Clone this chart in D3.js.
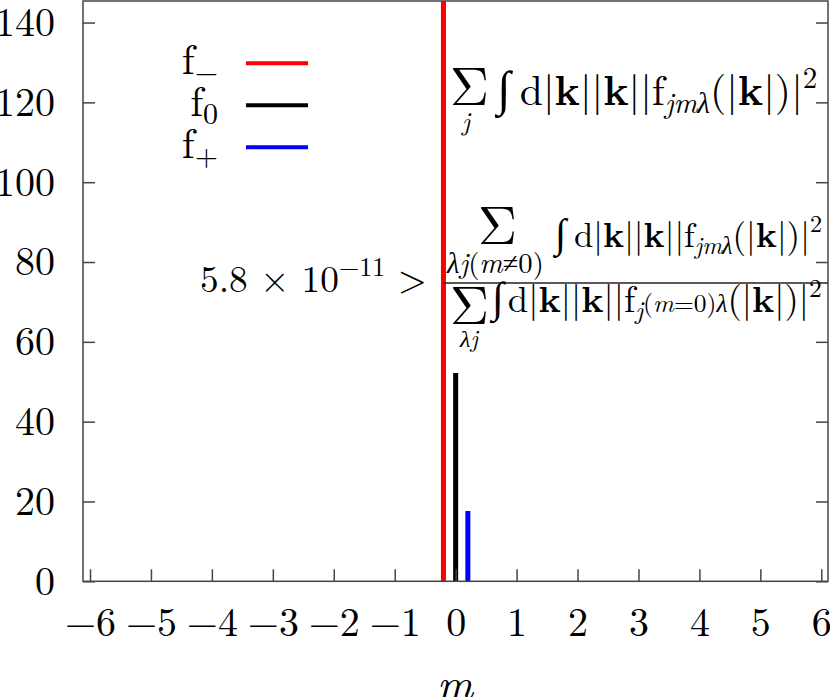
<!DOCTYPE html>
<html><head><meta charset="utf-8">
<script src="https://cdn.jsdelivr.net/npm/d3@7"></script>
<style>html,body{margin:0;padding:0;background:#fff;}</style>
</head><body>
<svg id="chart" width="830" height="697"></svg>
<script>
// ---- data ----
const seriesNames = ["f−", "f0", "f+"];
const seriesSubs = ["−", "0", "+"];
const seriesColors = ["#ff0000", "#000000", "#0000ff"];
const mValues = [-0.2, 0, 0.2];
const barValues = [200, 52.2, 17.6];   // red exceeds the top of the axis
const xTicks = [-6, -5, -4, -3, -2, -1, 0, 1, 2, 3, 4, 5, 6];
const yTicks = [0, 20, 40, 60, 80, 100, 120, 140];
const xDomain = [-6.115, 6.11];
const yDomain = [0, 145.4];

const FONT = '"Latin Modern Roman"';
const svg = d3.select("#chart");
const L = 83, R = 828, T = 1, B = 581.3;
const x = d3.scaleLinear().domain(xDomain).range([L, R]);
const y = d3.scaleLinear().domain(yDomain).range([B, T]);

svg.append("defs").append("clipPath").attr("id", "clip")
  .append("rect").attr("x", L).attr("y", T).attr("width", R - L).attr("height", B - T);

// bars
svg.append("g").attr("clip-path", "url(#clip)").selectAll("line")
  .data(mValues).join("line")
  .attr("x1", (d) => x(d)).attr("x2", (d) => x(d))
  .attr("y1", y(0)).attr("y2", (d, i) => y(barValues[i]))
  .attr("stroke", (d, i) => seriesColors[i]).attr("stroke-width", 5);

// axes
const axCol = "#444";
function styleAxis(g) {
  g.attr("font-family", null).attr("font-size", null);
  g.select(".domain").remove();
  g.selectAll(".tick line").attr("stroke", axCol).attr("stroke-width", 1.5);
  g.selectAll("text").style("font-family", FONT).attr("font-size", 40).attr("fill", "#000");
}
svg.append("g").attr("transform", `translate(${L},0)`)
  .call(d3.axisLeft(y).tickValues(yTicks).tickSizeInner(-12).tickSizeOuter(0).tickPadding(28))
  .call(styleAxis);
svg.append("g").attr("transform", `translate(${R},0)`)
  .call(d3.axisRight(y).tickValues(yTicks).tickSizeInner(-12).tickSizeOuter(0).tickFormat(""))
  .call(styleAxis);
svg.append("g").attr("transform", `translate(0,${B})`)
  .call(d3.axisBottom(x).tickValues(xTicks).tickSizeInner(-12).tickSizeOuter(0).tickPadding(26)
    .tickFormat((d) => d < 0 ? "−" + Math.abs(d) : String(d)))
  .call(styleAxis);

// frame
svg.append("rect").attr("x", L).attr("y", T).attr("width", R - L).attr("height", B - T)
  .attr("fill", "none").attr("stroke", axCol).attr("stroke-width", 1.5);

// axis label
svg.append("text").attr("x", 455).attr("y", 699).attr("text-anchor", "middle")
  .style("font-family", FONT).attr("font-size", 44).attr("font-style", "italic").text("m");

// legend
const legY = [63.3, 105.3, 147.3];
seriesNames.forEach((n, i) => {
  const t = svg.append("text").attr("x", 218).attr("y", legY[i] + 11).attr("text-anchor", "end")
    .style("font-family", FONT).attr("font-size", 42);
  t.append("tspan").text("f");
  t.append("tspan").attr("font-size", 30).attr("dy", 8).text(seriesSubs[i]);
  svg.append("line").attr("x1", 246).attr("x2", 308).attr("y1", legY[i]).attr("y2", legY[i])
    .attr("stroke", seriesColors[i]).attr("stroke-width", 4);
});

// math helper: lays out parts, then scales the font so the rendered width equals opts.w
function math(x0, y0, parts, opts) {
  const build = (k) => {
    const t = svg.append("text").attr("x", x0).attr("y", y0)
      .style("font-family", FONT).attr("font-size", opts.size * k)
      .attr("text-anchor", opts.anchor || "start");
    let cur = 0;
    parts.forEach((p) => {
      const s = (p.s || 0) * k;
      const ts = t.append("tspan").attr("dy", s - cur).text(p.t);
      cur = s;
      if (p.fs) ts.attr("font-size", p.fs * k);
      if (p.b) ts.attr("font-weight", "bold");
      if (p.i) ts.attr("font-style", "italic");
      if (p.dx) ts.attr("dx", p.dx * k);
    });
    return t;
  };
  let t = build(1);
  if (opts.w) {
    const len = t.node().getBBox().width;
    const k = opts.w / len;
    t.remove();
    t = build(k);
  }
  return t;
}
function intBody(subParts, gap) {
  return [
    { t: "∫", fs: 42, i: true },
    { t: "d|", dx: gap }, { t: "k", b: true }, { t: "||" }, { t: "k", b: true }, { t: "||f" },
    ...subParts,
    { t: "(|", s: 0 }, { t: "k", b: true }, { t: "|)|" },
    { t: "2", fs: 25, s: -15 }
  ];
}

// formula 1
math(450, 105, [{ t: "Σ" }], { size: 54 });
math(466, 130, [{ t: "j", i: true }], { size: 26, anchor: "middle" });
math(497, 105, intBody([{ t: "jmλ", fs: 25, s: 7, i: true }], 8), { size: 36, w: 324 });

// formula 2
math(200, 292, [{ t: "5.8 × 10" }, { t: "−11", fs: 28, s: -17 }, { t: " >", s: 0 }], { size: 40, w: 227 });
math(478, 244, [{ t: "Σ" }], { size: 54 });
math(447, 273, [{ t: "λj", i: true }, { t: "(" }, { t: "m", i: true }, { t: "≠0)" }], { size: 24, w: 98 });
math(555, 247, intBody([{ t: "jmλ", fs: 25, s: 7, i: true }], 8), { size: 36, w: 270 });
svg.append("line").attr("x1", 443).attr("x2", R).attr("y1", 283).attr("y2", 283)
  .attr("stroke", "#222").attr("stroke-width", 1.5);
math(450, 324, [{ t: "Σ" }], { size: 54 });
math(469, 347, [{ t: "λj", i: true }], { size: 24, anchor: "middle" });
math(492, 312, intBody([{ t: "j", fs: 25, s: 7, i: true }, { t: "(", fs: 25 }, { t: "m", fs: 25, i: true }, { t: "=0)", fs: 25 }, { t: "λ", fs: 25, i: true }], 4), { size: 36, w: 333 });
</script>
</body></html>
